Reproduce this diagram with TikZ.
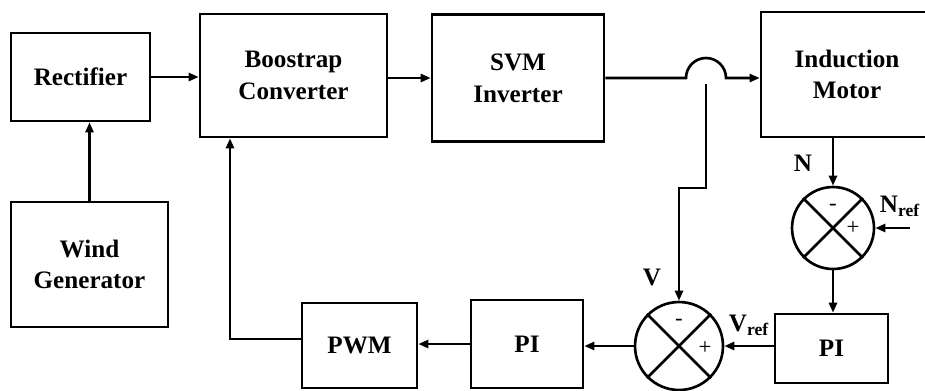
\documentclass[tikz,border=0pt]{standalone}
\usepackage{fontspec}
\setmainfont{Liberation Serif}
\usepackage{tikz}
\usetikzlibrary{positioning,arrows.meta,calc}

\begin{document}
\begin{tikzpicture}[
    x=0.02cm, y=-0.02cm,
    font=\bfseries\fontsize{14.3}{18}\selectfont,
    block/.style={rectangle, draw, line width=1.5pt, align=center, inner sep=0pt},
    junction/.style={circle, draw, line width=1.5pt, inner sep=0pt},
    sign/.style={font=\normalfont\fontsize{13}{13}\selectfont, inner sep=0pt},
    arr/.style={line width=1.5pt, -{Triangle[length=2mm,width=1.6mm]}},
    wire/.style={line width=1.5pt},
]
\useasboundingbox (0,0) rectangle (925,390);

% Power path
\node[block, minimum width=2.78cm, minimum height=1.76cm] (Rect) at (80.5,77) {Rectifier};
\node[block, minimum width=3.74cm, minimum height=2.46cm] (Boost) at (293.5,75.5) {Boostrap\\Converter};
\node[block, minimum width=3.44cm, minimum height=2.54cm] (SVM) at (518,78) {SVM\\Inverter};
\node[block, minimum width=3.44cm, minimum height=2.5cm] (IM) at (847,74.5) {Induction\\Motor};
\node[block, minimum width=3.14cm, minimum height=2.5cm] (Wind) at (89.5,264.5) {Wind\\Generator};

% Control loop
\node[block, minimum width=2.3cm, minimum height=1.7cm] (PWM) at (359.5,345.5) {PWM};
\node[block, minimum width=2.24cm, minimum height=1.76cm] (PIv) at (527,344) {PI};
\node[block, minimum width=2.26cm, minimum height=1.38cm] (PIn) at (831.5,348.5) {PI};

% Summing junctions
\node[junction, minimum size=1.76cm] (SV) at (679,346) {};
\node[junction, minimum size=1.64cm] (SN) at (833,228) {};
\foreach \s in {SV,SN}
    \draw[wire] (\s.45) -- (\s.225) (\s.135) -- (\s.315);
\node[sign] (SVm) at ($(SV)+(0,-24)$) {-};
\node[sign] (SVp) at ($(SV)+(26,2)$) {+};
\node[sign] (SNm) at ($(SN)+(0,-21)$) {-};
\node[sign] (SNp) at ($(SN)+(20,0)$) {+};

% Signal labels
\node (lN) at (803,163) {N};
\node (lNref) at (900,206) {N\textsubscript{ref}};
\node (lV) at (652,277) {V};
\node (lVref) at (749,325) {V\textsubscript{ref}};

% Helper points
\coordinate (hop) at (706,78);
\coordinate (tap) at (706,84);
\coordinate (bend) at (706,188);
\coordinate (nref) at (910,228);
\coordinate (fbk) at (230,339);

% Connections
\draw[arr] (Rect.east) -- (Rect.east -| Boost.west);
\draw[arr] (Wind.north) -- (Wind.north |- Rect.south);
\draw[arr] (SVM.west -| Boost.east) -- (SVM.west);
\draw[arr] (SVM.east) -- ($(hop)+(-20,0)$) arc[start angle=180, end angle=360, radius=20] -- (hop -| IM.west);
\draw[arr] (tap) -- (bend) -| (SV.north);
\draw[arr] (IM.south -| SN.north) -- (SN.north);
\draw[arr] (nref) -- (SN.east);
\draw[arr] (SN.south) -- (SN.south |- PIn.north);
\draw[arr] (SV.east -| PIn.west) -- (SV.east);
\draw[arr] (SV.west) -- (SV.west -| PIv.east);
\draw[arr] (PIv.west) -- (PIv.west -| PWM.east);
\draw[arr] (PWM.west |- fbk) -- (fbk) -- (fbk |- Boost.south);

\end{tikzpicture}
\end{document}
